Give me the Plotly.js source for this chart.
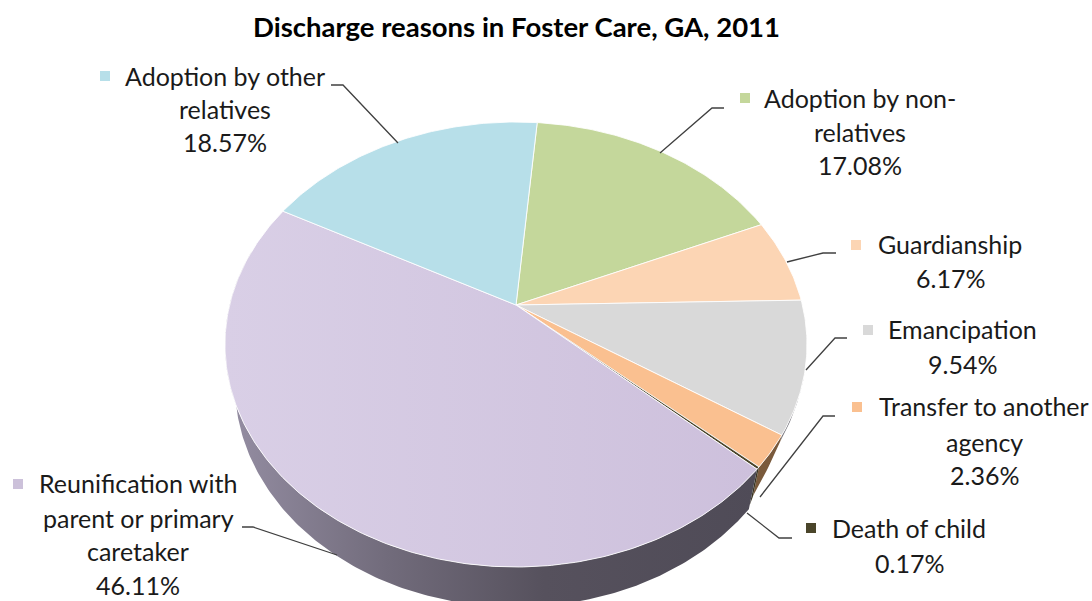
<!DOCTYPE html>
<html>
<head>
<meta charset="utf-8">
<script src="https://cdn.plot.ly/plotly-3.0.1.min.js"></script>
<style>html,body{margin:0;padding:0;background:#fff;overflow:hidden}#c{width:1092px;height:601px}</style>
</head>
<body>
<div id="c"></div>
<script>
const categories = ["Adoption by non-relatives","Guardianship","Emancipation","Transfer to another agency","Death of child","Reunification with parent or primary caretaker","Adoption by other relatives"];
const percents = [17.08,6.17,9.54,2.36,0.17,46.11,18.57];
const colors = ["#c4d79b","#fcd5b4","#d9d9d9","#fac090","#4a452a","#ccc1da","#b7dfe9"];
const wallColors = ["#7f8a60","#a08a70","#77757c","#7a5a3c","#3a3522","#4f4b57","#6f8a92"];
const labelLines = [
  ["Adoption by non-","relatives","17.08%"],
  ["Guardianship","6.17%"],
  ["Emancipation","9.54%"],
  ["Transfer to another","agency","2.36%"],
  ["Death of child","0.17%"],
  ["Reunification with","parent or primary","caretaker","46.11%"],
  ["Adoption by other","relatives","18.57%"]
];
const titleText = "Discharge reasons in Foster Care, GA, 2011";

// Perspective view of the pie disc
const view = {cx:516, cy:305, b:286.4, a:215.5, k:0.1775, start:5, depth:40, shrink:0.966};
const pt = (deg, depth=0, shrink=1) => {
  const t = deg*Math.PI/180, X = Math.sin(t), Y = Math.cos(t), w = 1 + view.k*Y;
  return [view.cx + shrink*view.b*X/w, view.cy - view.a*Y/w + depth];
};
const arc = (t0,t1,depth=0,shrink=1,d1) => {
  const n = Math.max(2, Math.ceil(Math.abs(t1-t0)*1.5)), out = [];
  for (let i=0;i<=n;i++){
    const f=i/n, d = d1===undefined ? depth : depth+(d1-depth)*f;
    const s = d1===undefined ? shrink : 1-(1-view.shrink)*d/view.depth;
    out.push(pt(t0+(t1-t0)*f,d,s));
  }
  return out;
};
const poly = (pts,extra) => Object.assign({
  type:"scatter",mode:"lines",x:pts.map(p=>p[0]),y:pts.map(p=>p[1]),fill:"toself",
  hoverinfo:"skip",showlegend:false,line:{width:0}
},extra);

const bounds = [view.start];
percents.forEach(p=>bounds.push(bounds[bounds.length-1]+p*3.6));

const traces = [];
// Side walls
const wallDepth = [null,null,[0,6,108],[6,29],[30,36],[40,40],null];
percents.forEach((p,i)=>{
  const d = wallDepth[i]; if(!d) return;
  let t0 = d[2]!==undefined ? d[2] : bounds[i], t1 = i===5 ? 285 : bounds[i+1];
  const top = arc(t0,t1), bot = arc(t0,t1,d[0],1,d[1]).reverse();
  const extra = {fillcolor:wallColors[i]};
  if(i===5){ extra.fillgradient={type:"horizontal",colorscale:[[0,"#958ea3"],[0.3,"#726c7c"],[0.6,"#56515d"],[1,"#4f4b57"]]}; }
  traces.push(poly(top.concat(bot),extra));
});
// Top face
percents.forEach((p,i)=>{
  const pts = [[view.cx,view.cy]].concat(arc(bounds[i],bounds[i+1]),[[view.cx,view.cy]]);
  const extra = {fillcolor:colors[i],line:{width:1,color:"rgba(255,255,255,0.85)"}};
  if(i===5){ extra.fillgradient={type:"horizontal",colorscale:[[0,"#d9cfe6"],[1,"#cdc0dc"]]}; }
  traces.push(poly(pts,extra));
});
// Leader lines
const leaders = [
  [[724,108],[712,108],[660,153]],
  [[836,253],[823,253],[787,262]],
  [[847,338],[835,338],[806,370]],
  [[835,416],[823,416],[760,497]],
  [[792,538],[779,538],[747,513]],
  [[242,527],[253,527],[337,555]],
  [[331,85],[343,85],[398,143]]
];
leaders.forEach(l=>traces.push({type:"scatter",mode:"lines",x:l.map(p=>p[0]),y:l.map(p=>p[1]),
  line:{color:"#404040",width:1.3},hoverinfo:"skip",showlegend:false}));
// Legend keys
const keyX = [745,856,868,857,811,18,105], keyY = [98,245,330,407,528,484,76];
traces.push({type:"scatter",mode:"markers",x:keyX,y:keyY,
  marker:{symbol:"square",size:10,color:colors},hoverinfo:"skip",showlegend:false});

// Labels
const labelX = [860,950,962,984,909,138,225];
const labelY = [[98,132,165],[244,278],[329,364],[406,442,475],[528,563],[483,518,551,585],[76,109,142]];
const font = {family:"Lato, 'Noto Sans', sans-serif",size:25,color:"#1a1a1a"};
const annotations = [{x:516,y:26,xref:"x",yref:"y",text:"<b>"+titleText+"</b>",showarrow:false,
  font:{family:font.family,size:27.5,color:"#000"},xanchor:"center",yanchor:"middle"}];
labelLines.forEach((lines,i)=>lines.forEach((txt,j)=>annotations.push({
  x:labelX[i],y:labelY[i][j],xref:"x",yref:"y",text:txt,showarrow:false,font,xanchor:"center",yanchor:"middle"
})));

Plotly.newPlot("c",traces,{
  width:1092,height:601,margin:{l:0,r:0,t:0,b:0},paper_bgcolor:"#fff",plot_bgcolor:"#fff",showlegend:false,
  xaxis:{range:[0,1092],visible:false,fixedrange:true},
  yaxis:{range:[601,0],visible:false,fixedrange:true},
  annotations
},{displayModeBar:false,staticPlot:true});
</script>
</body>
</html>
